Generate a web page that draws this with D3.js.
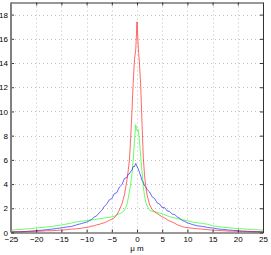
<!DOCTYPE html>
<html lang="en">
<head>
<meta charset="UTF-8">
<title>profile</title>
<style>
  body, html { margin: 0; padding: 0; background: #fff; }
  #svg { display: block; }
  text { font-family: "Liberation Sans", Arial, sans-serif; font-size: 8px; fill: #000; }
</style>
</head>
<body>
<svg id="svg" width="271" height="255"></svg>
<script src="https://d3js.org/d3.v7.min.js"></script>
<script>
// ----- DATA -----
const xs = [-25, -24, -23, -22, -21, -20, -19, -18, -17, -16, -15, -14, -13, -12, -11,
  -10, -9.5, -9, -8.5, -8, -7.5, -7, -6.5, -6, -5.5, -5, -4.5, -4, -3.5, -3, -2.5,
  -2, -1.75, -1.5, -1.25, -1, -0.75, -0.5, -0.25, 0, 0.25, 0.5, 0.75, 1, 1.25, 1.5, 1.75, 2,
  2.5, 3, 3.5, 4, 4.5, 5, 5.5, 6, 6.5, 7, 7.5, 8, 8.5, 9, 9.5, 10,
  11, 12, 13, 14, 15, 16, 17, 18, 19, 20, 21, 22, 23, 24, 25]

const red = [0.05, 0.06, 0.05, 0.07, 0.08, 0.1, 0.11, 0.14, 0.15, 0.17, 0.2, 0.23, 0.28, 0.3, 0.36,
  0.42, 0.46, 0.53, 0.55, 0.63, 0.67, 0.75, 0.8, 0.9, 1.0, 1.1, 1.22, 1.47, 1.85, 2.35, 3.1,
  4.3, 5.1, 6.0, 7.8, 10.0, 12.4, 14.3, 15.1, 17.4, 15.3, 13.9, 12.0, 9.0, 6.2, 4.7, 3.8, 3.1,
  2.3, 1.9, 1.72, 1.56, 1.42, 1.3, 1.2, 1.05, 0.95, 0.86, 0.76, 0.64, 0.57, 0.48, 0.43, 0.4,
  0.35, 0.31, 0.28, 0.23, 0.2, 0.17, 0.15, 0.12, 0.11, 0.09, 0.08, 0.07, 0.06, 0.05, 0.05]

const green = [0.2, 0.23, 0.25, 0.3, 0.32, 0.37, 0.41, 0.45, 0.5, 0.56, 0.62, 0.7, 0.78, 0.88, 0.93,
  0.98, 1.02, 1.04, 1.08, 1.1, 1.14, 1.15, 1.2, 1.23, 1.25, 1.3, 1.34, 1.45, 1.55, 1.65, 1.82,
  2.3, 2.8, 3.4, 4.0, 4.8, 6.0, 7.6, 8.9, 8.4, 8.5, 7.5, 6.2, 5.0, 3.8, 3.0, 2.5, 2.2,
  1.85, 1.76, 1.7, 1.66, 1.6, 1.55, 1.46, 1.38, 1.3, 1.26, 1.2, 1.16, 1.1, 1.06, 1.03, 0.98,
  0.86, 0.8, 0.75, 0.68, 0.56, 0.49, 0.44, 0.4, 0.36, 0.33, 0.3, 0.27, 0.24, 0.22, 0.2]

const blue = [0.05, 0.06, 0.07, 0.09, 0.12, 0.15, 0.18, 0.23, 0.27, 0.33, 0.38, 0.45, 0.5, 0.63, 0.74,
  0.86, 0.96, 1.08, 1.28, 1.38, 1.62, 1.82, 2.15, 2.35, 2.7, 2.8, 3.2, 3.3, 3.75, 3.95, 4.45,
  4.55, 4.8, 4.85, 5.05, 5.15, 5.45, 5.45, 5.7, 5.45, 5.25, 4.95, 4.65, 4.3, 4.15, 3.85, 3.75, 3.55,
  3.35, 2.95, 2.8, 2.45, 2.35, 2.05, 2.05, 1.78, 1.72, 1.52, 1.48, 1.28, 1.17, 0.98, 0.92, 0.8,
  0.66, 0.55, 0.5, 0.42, 0.37, 0.3, 0.26, 0.21, 0.18, 0.15, 0.12, 0.1, 0.08, 0.07, 0.05]

const xTicks = [-25, -20, -15, -10, -5, 0, 5, 10, 15, 20, 25]
const yTicks = [0, 2, 4, 6, 8, 10, 12, 14, 16, 18]

// ----- SCALES -----
const margin = {top: 2.5, right: 8, bottom: 22.5, left: 11}
const W = 271, H = 255
const x = d3.scaleLinear().domain([-25, 25]).range([margin.left, W - margin.right])
const y = d3.scaleLinear().domain([0, 19]).range([H - margin.bottom, margin.top])

const svg = d3.select('#svg')

// grid
const grid = svg.append('g')
grid.selectAll('.gx').data(xTicks.slice(1, -1)).enter().append('line')
  .attr('x1', d => Math.round(x(d)) + 0.5).attr('x2', d => Math.round(x(d)) + 0.5)
  .attr('y1', y(19)).attr('y2', y(0))
  .attr('stroke', '#b0b0b0').attr('stroke-width', 0.8).attr('stroke-dasharray', '1,3')
grid.selectAll('.gy').data(yTicks.slice(1)).enter().append('line')
  .attr('y1', d => Math.round(y(d)) + 0.5).attr('y2', d => Math.round(y(d)) + 0.5)
  .attr('x1', x(-25)).attr('x2', x(25))
  .attr('stroke', '#b0b0b0').attr('stroke-width', 0.8).attr('stroke-dasharray', '1,3')

// lines
const line = d3.line().x((d, i) => x(xs[i])).y(d => y(d))
const series = [[green, '#00ff00'], [blue, '#0000ff'], [red, '#ff0000']]
series.forEach(([vals, col]) => {
  svg.append('path').datum(vals)
    .attr('d', line)
    .attr('fill', 'none')
    .attr('stroke', col)
    .attr('stroke-width', 0.7)
    .attr('stroke-opacity', 0.85)
})

// axes
const fmt = d => d < 0 ? '\u2212' + Math.abs(d) : d
const axBottom = d3.axisBottom(x).tickValues(xTicks).tickSizeInner(-3).tickSizeOuter(0).tickPadding(4).tickFormat(fmt)
const axTop = d3.axisTop(x).tickValues(xTicks).tickSizeInner(-3).tickSizeOuter(0).tickFormat('')
const axLeft = d3.axisLeft(y).tickValues(yTicks).tickSizeInner(-3).tickSizeOuter(0).tickPadding(3)
const axRight = d3.axisRight(y).tickValues(yTicks).tickSizeInner(-3).tickSizeOuter(0).tickFormat('')

svg.append('g').attr('transform', `translate(0, ${y(0)})`).call(axBottom)
svg.append('g').attr('transform', `translate(0, ${y(19)})`).call(axTop)
svg.append('g').attr('transform', `translate(${x(-25)}, 0)`).call(axLeft)
svg.append('g').attr('transform', `translate(${x(25)}, 0)`).call(axRight)

svg.selectAll('.domain').attr('stroke', '#333').attr('stroke-width', 1)
svg.selectAll('.tick line').attr('stroke', '#333')
svg.selectAll('.tick text').style('font-size', '8px').attr('fill', '#000')

// thick left spine like the original
svg.append('line')
  .attr('x1', x(-25)).attr('x2', x(-25))
  .attr('y1', y(19)).attr('y2', y(0))
  .attr('stroke', '#808080').attr('stroke-width', 2)

// x label
svg.append('text')
  .attr('x', x(0)).attr('y', 251)
  .attr('text-anchor', 'middle')
  .text('\u03bc m')
</script>
</body>
</html>
